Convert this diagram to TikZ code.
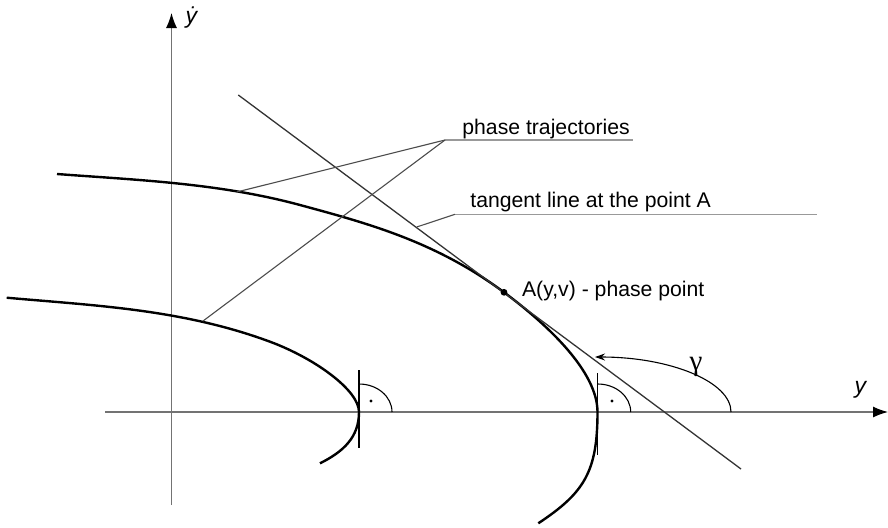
\documentclass[tikz,border=0pt]{standalone}
\usepackage{fontspec}
\setmainfont{Liberation Sans}
\newfontfamily\gammafont{Liberation Serif}
\usetikzlibrary{arrows.meta}

\begin{document}
\begin{tikzpicture}[x=0.5pt, y=0.5pt,
    traj/.style={line width=1.2pt, black},
    axis/.style={line width=0.6pt, black!55, -{Latex[length=7.5pt, width=5.5pt, color=black]}},
    tangent/.style={line width=0.65pt, black!80},
    leader/.style={line width=0.55pt, black!70},
    uline/.style={line width=0.6pt, black!40},
    lbl/.style={inner sep=0pt, font=\fontsize{10.6}{12.7}\selectfont},
    rmark/.style={line width=0.55pt, black}
]
    \useasboundingbox (0,0) rectangle (888,527);

    % axes
    \coordinate (xs) at (105,115);
    \coordinate (xe) at (888,115);
    \coordinate (ys) at (171.5,22);
    \coordinate (ye) at (171.5,514);
    \draw [axis] (xs) -- (xe);
    \draw [axis] (ys) -- (ye);
    \node (ylab) [lbl, font=\fontsize{11.5}{13}\selectfont] at (861,137) {\textit{y}};
    \node (ydlab) [lbl, font=\fontsize{11.5}{13}\selectfont] at (192,509) {\textit{\.{y}}};

    % phase trajectories
    \draw [traj] (57,353) .. controls (138,346.9) and (219,343.9) .. (300,322)
                 .. controls (368,303.6) and (436,285.3) .. (504,234.7)
                 .. controls (549,201.2) and (597.5,155) .. (597.5,115)
                 .. controls (597.5,55) and (584.1,34.1) .. (538.3,3.7);
    \draw [traj] (6.7,229.3) .. controls (94.7,221.4) and (182,217.9) .. (270,185.3)
                 .. controls (315,168.6) and (359,136.7) .. (359,115)
                 .. controls (359,89.7) and (343.3,75.3) .. (320,63.7);

    % tangent line and phase point
    \coordinate (ts) at (238.3,432);
    \coordinate (te) at (741,58);
    \draw [tangent] (ts) -- (te);
    \coordinate (A) at (504,234.7);
    \fill (A) circle (1.7pt);
    \node (Alab) [lbl, anchor=base west] at (521.7,231) {A(y,v) - phase point};

    % right angles
    \draw [rmark] (359,157) -- (359,79);
    \draw [rmark] (392,115) arc [start angle=0, end angle=90, x radius=16.5pt, y radius=14pt];
    \fill (371,126) circle (0.8pt);
    \draw [rmark] (597.7,154) -- (597.7,72);
    \draw [rmark] (630.7,115) arc [start angle=0, end angle=90, x radius=16.5pt, y radius=14pt];
    \fill (612,126) circle (0.8pt);

    % angle gamma
    \coordinate (g0) at (731,115);
    \draw [rmark, -{Stealth[length=5pt, width=3.5pt]}] (g0) arc [start angle=0, end angle=90, x radius=68pt, y radius=27.5pt];
    \node (glab) [lbl, font=\gammafont\fontsize{14.5}{16}\selectfont] at (696,160) {γ};

    % labels with leaders
    \node (ptlab) [lbl, anchor=base west] at (462,393) {phase trajectories};
    \coordinate (pj) at (445,387);
    \coordinate (pe) at (632.7,387);
    \coordinate (c1) at (236.7,335);
    \coordinate (c2) at (203,206);
    \draw [uline] (pj) -- (pe);
    \draw [leader] (pj) -- (c1);
    \draw [leader] (pj) -- (c2);

    \node (tllab) [lbl, anchor=base west] at (470,319.7) {tangent line at the point A};
    \coordinate (tj) at (455,312.7);
    \coordinate (tk) at (816.7,312.7);
    \coordinate (tc) at (416.7,300);
    \draw [uline] (tj) -- (tk);
    \draw [leader] (tj) -- (tc);
\end{tikzpicture}
\end{document}
